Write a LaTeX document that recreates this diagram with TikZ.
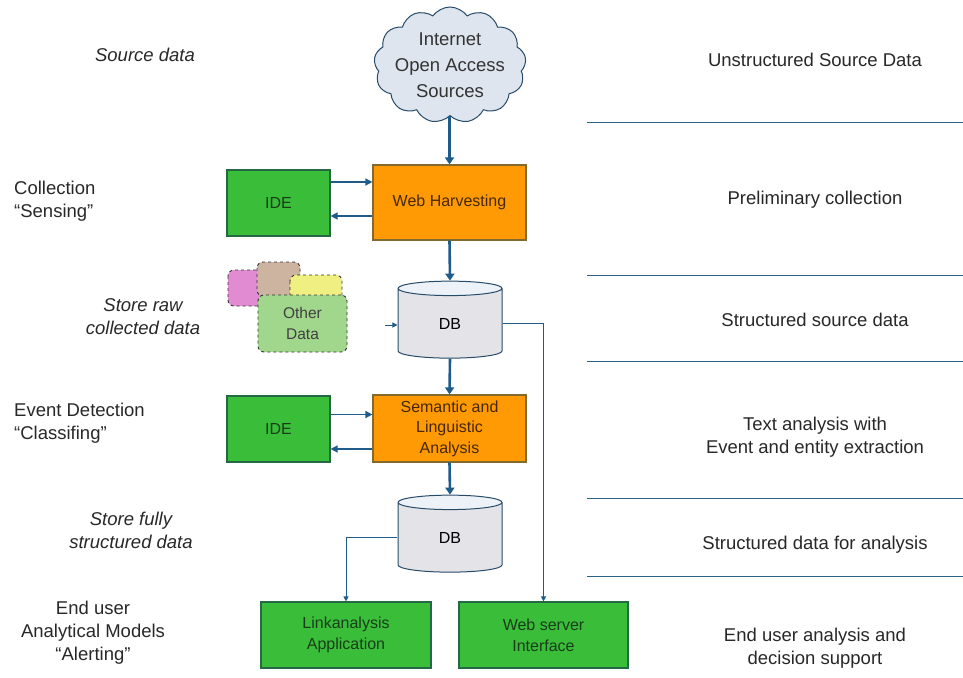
\documentclass[tikz,border=0pt]{standalone}
\usepackage{fontspec}
\setmainfont{Liberation Sans}
\usetikzlibrary{shapes.symbols,shapes.geometric,arrows.meta}
\definecolor{flowblue}{RGB}{31,92,138}
\definecolor{sepline}{RGB}{40,100,130}
\definecolor{greenfill}{RGB}{58,190,58}
\definecolor{greenedge}{RGB}{35,105,70}
\definecolor{orangefill}{RGB}{255,154,5}
\definecolor{orangeedge}{RGB}{130,105,45}
\definecolor{orangetext}{RGB}{70,40,0}
\definecolor{greentext}{RGB}{25,60,25}
\definecolor{dbbody}{RGB}{228,228,232}
\definecolor{dbtop}{RGB}{236,242,248}
\definecolor{dbedge}{RGB}{40,75,105}
\definecolor{cloudfill}{RGB}{222,229,238}
\definecolor{labeltext}{RGB}{40,40,40}
\definecolor{pinkfill}{RGB}{225,140,210}
\definecolor{brownfill}{RGB}{205,180,160}
\definecolor{yellowfill}{RGB}{240,240,130}
\definecolor{lgreenfill}{RGB}{160,215,140}
\begin{document}
\begin{tikzpicture}[x=1pt,y=-1pt,
  lbl/.style={text=labeltext, font=\fontsize{18.5}{23}\selectfont, align=center, inner sep=0},
  lbll/.style={lbl, align=left, anchor=west},
  lbli/.style={lbl, font=\fontsize{18.5}{23}\selectfont\itshape},
  proc/.style={draw=orangeedge, line width=1.2pt, fill=orangefill, text=orangetext, align=center,
     font=\fontsize{16}{20.5}\selectfont, inner sep=0, minimum width=153, minimum height=75},
  ide/.style={draw=greenedge, line width=1.2pt, fill=greenfill, text=greentext, align=center,
     font=\fontsize{16}{21}\selectfont, inner sep=0, minimum width=103, minimum height=66},
  app/.style={ide, minimum width=170, minimum height=66},
  db/.style={cylinder, shape border rotate=90, aspect=0.65, draw=dbedge, line width=1pt,
     cylinder uses custom fill, cylinder body fill=dbbody, cylinder end fill=dbtop,
     minimum width=104, minimum height=77, inner sep=0, text=black, font=\fontsize{16}{18}\selectfont},
  cloudnode/.style={cloud, cloud puffs=13, cloud puff arc=110, cloud ignores aspect,
     draw=dbedge, line width=1pt, fill=cloudfill, minimum width=152, minimum height=116,
     align=center, inner sep=-6pt, text=black!80, font=\fontsize{18.5}{26}\selectfont},
  other/.style={draw=black!80, dashed, line width=0.9pt, rounded corners=6pt},
  thickarrow/.style={draw=flowblue, line width=2.6pt, -{Triangle[length=7pt,width=9pt]}},
  medarrow/.style={draw=flowblue, line width=1.5pt, -{Triangle[length=7pt,width=7pt]}},
  thinarrow/.style={draw=flowblue, line width=1pt, -{Triangle[length=5pt,width=5pt]}},
  sep/.style={draw=sepline, line width=1pt}
]
\useasboundingbox (0,0) rectangle (963,677);
\fill[white] (0,0) rectangle (963,677);

% separators
\draw[sep] (587,122) -- (963,122);
\draw[sep] (587,275) -- (963,275);
\draw[sep] (587,361) -- (963,361);
\draw[sep] (587,498) -- (963,498);
\draw[sep] (587,576) -- (963,576);

% main nodes
\node[cloudnode] (cloud) at (450,65) {Internet\\Open Access\\Sources};
\node[proc] (wh) at (449.5,202.5) {Web Harvesting};
\node[ide] (ide1) at (278.5,203) {IDE};
\node[db] (db1) at (450,323.5) {DB};
\node[proc, minimum height=67] (sem) at (449.5,428.5) {Semantic and\\Linguistic\\Analysis};
\node[ide] (ide2) at (278.5,429) {IDE};
\node[db] (db2) at (450,537.5) {DB};
\node[app] (link) at (346,635) {Linkanalysis\\Application};
\node[app, minimum width=169] (web) at (543.5,635) {Web server\\Interface};

% other data cluster
\draw[other, fill=pinkfill] (228,270) rectangle (282,306);
\draw[other, fill=brownfill] (257,262) rectangle (300,296);
\draw[other, fill=yellowfill] (290,275) rectangle (342,301);
\node[other, fill=lgreenfill, minimum width=89, minimum height=57, inner sep=0, align=center,
      text=black!75, font=\fontsize{15.5}{21}\selectfont] (other) at (302.5,323.5) {Other\\Data};

% connectors
\draw[thickarrow] (wh.north |- cloud.south) -- (wh.north);
\draw[thickarrow] (wh.south) -- (db1.north);
\draw[thickarrow] (db1.south) -- (sem.north);
\draw[thickarrow] (sem.south) -- (db2.north);
\draw[medarrow] ([yshift=21pt]ide1.east) -- ([yshift=21pt]ide1.east -| wh.west);
\draw[medarrow] ([yshift=-13.5pt]wh.west) -- ([yshift=-13.5pt]wh.west -| ide1.east);
\draw[medarrow] ([yshift=14.5pt]ide2.east) -- ([yshift=14.5pt]ide2.east -| sem.west);
\draw[medarrow] ([yshift=-20.5pt]sem.west) -- ([yshift=-20.5pt]sem.west -| ide2.east);
\coordinate (odin) at (385,325);
\draw[thinarrow] (odin) -- (odin -| db1.west);
\draw[thinarrow] (db1.east) -| (web.north);
\draw[thinarrow] (db2.west) -| (link.north);

% left labels
\node[lbli] (l1) at (145,55) {Source data};
\node[lbll] (l2) at (14,201) {Collection\\``Sensing''};
\node[lbli] (l3) at (143,317) {Store raw\\collected data};
\node[lbll] (l4) at (14,423) {Event Detection\\``Classifing''};
\node[lbli] (l5) at (131,530) {Store fully\\structured data};
\node[lbl] (l6) at (93,633) {End user\\Analytical Models\\``Alerting''};

% right labels
\node[lbl] (r1) at (815,60) {Unstructured Source Data};
\node[lbl] (r2) at (815,200) {Preliminary collection};
\node[lbl] (r3) at (815,320) {Structured source data};
\node[lbl] (r4) at (815,437) {Text analysis with\\Event and entity extraction};
\node[lbl] (r5) at (815,545) {Structured data for analysis};
\node[lbl] (r6) at (815,648) {End user analysis and\\decision support};
\end{tikzpicture}
\end{document}
